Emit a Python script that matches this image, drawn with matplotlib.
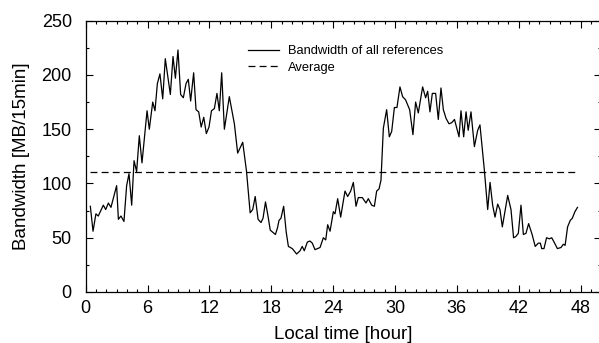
import matplotlib
matplotlib.use("Agg")
import matplotlib.pyplot as plt
from matplotlib.ticker import MultipleLocator

plt.rcParams['font.family'] = ['Liberation Sans', 'DejaVu Sans']
plt.rcParams['lines.scale_dashes'] = False

hours = [0.45, 0.71, 0.99, 1.22, 1.71, 1.94, 2.2, 2.45, 3.0, 3.17, 3.42, 3.71, 3.97, 4.2, 4.46,
         4.69, 4.94, 5.2, 5.46, 5.95, 6.17, 6.5, 6.72, 6.95, 7.2, 7.47, 7.72, 8.21, 8.47, 8.7,
         8.95, 9.21, 9.47, 9.73, 9.95, 10.18, 10.47, 10.7, 10.96, 11.2, 11.45, 11.7, 11.96, 12.2,
         12.48, 12.73, 12.96, 13.19, 13.45, 13.93, 14.42, 14.74, 15.23, 15.6, 15.95, 16.2, 16.44,
         16.72, 17.0, 17.2, 17.44, 17.7, 17.9, 18.4, 18.6, 18.75, 18.94, 19.2, 19.45, 19.66, 20.04,
         20.46, 20.79, 21.0, 21.2, 21.5, 21.75, 21.98, 22.24, 22.73, 23.05, 23.28, 23.47, 23.7,
         24.02, 24.18, 24.44, 24.73, 25.15, 25.41, 25.7, 25.96, 26.22, 26.44, 26.83, 27.19, 27.41,
         27.74, 28.0, 28.22, 28.45, 28.64, 28.87, 29.19, 29.45, 29.68, 29.94, 30.19, 30.48, 30.74,
         31.03, 31.42, 31.74, 32.0, 32.26, 32.68, 32.97, 33.17, 33.39, 33.62, 33.94, 34.2, 34.46,
         34.69, 34.95, 35.24, 35.5, 35.77, 36.21, 36.4, 36.66, 36.89, 37.1, 37.37, 37.7, 38.02,
         38.24, 38.67, 38.99, 39.22, 39.47, 39.7, 39.96, 40.18, 40.41, 40.93, 41.25, 41.5, 41.71,
         41.96, 42.22, 42.45, 42.7, 42.96, 43.3, 43.6, 43.9, 44.1, 44.23, 44.45, 44.7, 44.97, 45.2,
         45.43, 45.75, 46.1, 46.33, 46.5, 46.74, 47.0, 47.2, 47.45, 47.7]
bandwidth = [79, 56, 72, 70, 80, 76, 82, 78, 98, 67, 70, 65, 98, 109, 80,
             121, 111, 144, 119, 167, 150, 175, 167, 192, 201, 178, 215, 182, 217, 197,
             223, 182, 179, 192, 196, 176, 202, 168, 166, 152, 161, 146, 152, 167,
             169, 183, 167, 202, 150, 180, 155, 128, 138, 111, 73, 76, 88,
             67, 64, 68, 83, 69, 57, 53, 59, 66, 68, 79, 55, 42, 40,
             35, 38, 42, 38, 46, 47, 45, 39, 41, 50, 48, 62, 56,
             74, 72, 86, 69, 93, 88, 93, 101, 79, 87, 87, 82, 86,
             80, 79, 93, 95, 103, 151, 168, 143, 148, 170, 170, 189, 180,
             177, 168, 145, 175, 165, 189, 179, 185, 166, 183, 183, 159, 188,
             168, 160, 155, 156, 159, 143, 167, 143, 166, 149, 166, 134, 149,
             154, 112, 76, 101, 80, 69, 81, 76, 60, 89, 76, 50, 51,
             54, 80, 53, 54, 63, 53, 42, 45, 45, 40, 40, 50, 49, 50,
             46, 40, 41, 44, 43, 60, 66, 68, 74, 78]
average = 110.5
labels = ["Bandwidth of all references", "Average"]

W, H = 599, 343
fig = plt.figure(figsize=(W / 100, H / 100), dpi=100)
left, right, top, bottom = 85.7, 601.2, 20.7, 292.0
ax = fig.add_axes([left / W, 1 - bottom / H, (right - left) / W, (bottom - top) / H])

ax.plot(hours, bandwidth, color='black', lw=0.9, label=labels[0])
ax.plot([hours[0], hours[-1]], [average, average], color='black', lw=0.9,
        dashes=(5.0, 3.0), label=labels[1])

ax.set_xlim(0, 50)
ax.set_ylim(0, 250)
ax.xaxis.set_major_locator(MultipleLocator(6))
ax.xaxis.set_minor_locator(MultipleLocator(1))
ax.yaxis.set_major_locator(MultipleLocator(50))
ax.yaxis.set_minor_locator(MultipleLocator(25))
ax.tick_params(which='both', direction='in', top=True, right=True, width=0.8)
ax.tick_params(which='major', length=5, labelsize=13)
ax.tick_params(axis='y', which='major', pad=10)
ax.tick_params(axis='x', which='major', pad=6)
ax.tick_params(which='minor', length=2.5)
for s in ax.spines.values():
    s.set_linewidth(0.9)

ax.set_xlabel("Local time [hour]", fontsize=13.5, labelpad=6)
ax.set_ylabel("Bandwidth [MB/15min]", fontsize=13.5, labelpad=8)

ax.legend(loc='upper left', bbox_to_anchor=((248 - left) / (right - left), (bottom - 45) / (bottom - top)),
          frameon=False, fontsize=9.3, handlelength=2.4, handletextpad=0.7, labelspacing=0.38,
          borderpad=0, borderaxespad=0)

fig.savefig("out.png", dpi=100)
